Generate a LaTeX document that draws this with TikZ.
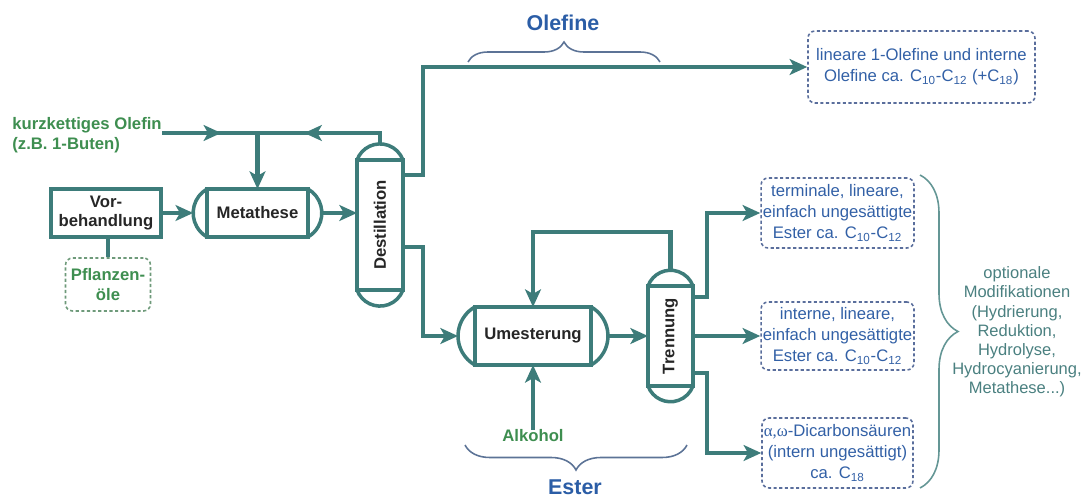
\documentclass[tikz,border=0pt]{standalone}
\usepackage{fontspec}
\usepackage{graphicx}
\setmainfont{Liberation Sans}
\newfontfamily\greekfont{Liberation Serif}
\usetikzlibrary{arrows.meta,calc,decorations.markings,decorations.pathreplacing}

\definecolor{pipe}{HTML}{3D7C7A}
\definecolor{feedgreen}{HTML}{3E8E50}
\definecolor{prodblue}{HTML}{3260A6}
\definecolor{boxline}{HTML}{5A6E9C}
\definecolor{oilline}{HTML}{6E9A7A}
\definecolor{bracegray}{HTML}{5C7396}
\definecolor{groupblue}{HTML}{2B5DA6}
\definecolor{modtext}{HTML}{4A8080}

\tikzstyle{flow} = [color=pipe, line width=2.3pt]
\tikzstyle{stream} = [flow, -{Stealth[length=10pt,width=9pt,inset=2.5pt]}]
\tikzstyle{unittext} = [text=black!85, font=\fontsize{9.5}{11.3}\selectfont\bfseries, align=center]
\tikzstyle{unit} = [draw=pipe, line width=2pt, fill=white, unittext, inner sep=1pt]
\tikzstyle{vesselcap} = [draw=pipe, line width=2pt]
\tikzstyle{feedtext} = [text=feedgreen, font=\fontsize{9.5}{11.3}\selectfont\bfseries, inner sep=0pt]
\tikzstyle{product} = [
  draw=boxline,
  line width=0.9pt,
  dash pattern=on 1.8pt off 1.4pt,
  rounded corners=4pt,
  text=prodblue,
  font=\fontsize{9.5}{12}\selectfont,
  align=center,
  inner sep=1pt,
]
\tikzstyle{bracket} = [draw=bracegray, line width=0.9pt, decorate]
\tikzstyle{group} = [text=groupblue, font=\fontsize{12.2}{14}\selectfont\bfseries]

\tikzset{
  hvessel/.style 2 args={
    unit, minimum width=#1cm, minimum height=#2cm,
    outer ysep=0pt, outer xsep=0.289*#2cm,
    append after command={\pgfextra{
      \draw[vesselcap] ([xshift=0.289*#2cm]\tikzlastnode.north west)
        arc[start angle=120, end angle=240, radius=0.577*#2cm];
      \draw[vesselcap] ([xshift=-0.289*#2cm]\tikzlastnode.north east)
        arc[start angle=60, end angle=-60, radius=0.577*#2cm];
    }}
  },
  vvessel/.style 2 args={
    unit, minimum width=#1cm, minimum height=#2cm,
    outer xsep=0pt, outer ysep=0.35*#1cm,
    append after command={\pgfextra{
      \draw[vesselcap] ([yshift=-0.35*#1cm]\tikzlastnode.north west)
        arc[start angle=160, end angle=20, radius=0.532*#1cm];
      \draw[vesselcap] ([yshift=0.35*#1cm]\tikzlastnode.south west)
        arc[start angle=200, end angle=340, radius=0.532*#1cm];
    }}
  },
  midarrow/.style={
    postaction={decorate, decoration={markings,
      mark=at position #1 with {\arrow{Stealth[length=10pt,width=9pt,inset=2.5pt]}}}}
  },
}

\begin{document}
\begin{tikzpicture}[x=0.02cm, y=-0.02cm]
  \useasboundingbox (0,0) rectangle (1086,497);

  % Units
  \node[unit, minimum width=2.2cm, minimum height=0.96cm] (vor) at (106,213) {Vor-\\behandlung};
  \node[hvessel={2.02}{0.96}] (meta) at (257.5,213) {Metathese};
  \node[vvessel={0.92}{2.6}] (dest) at (380,225) {\rotatebox{90}{Destillation}};
  \node[hvessel={2.33}{1.16}] (umest) at (533,336) {Umesterung};
  \node[vvessel={0.9}{2.0}] (tren) at (670.5,336) {\rotatebox{90}{Trennung}};

  % Feeds
  \node[feedtext, anchor=west, align=left] (feedtxt) at (12,135) {kurzkettiges Olefin\\(z.B. 1-Buten)};
  \node[feedtext, draw=oilline, line width=0.9pt, dash pattern=on 1.8pt off 1.4pt,
        rounded corners=4pt, align=center, minimum width=1.7cm, minimum height=1.06cm]
        (pfl) at (108,284.5) {Pflanzen-\\öle};
  \node[feedtext] (alk) at (533,436) {Alkohol};
  \coordinate (mix) at (257.5,133);

  % Products
  \node[product, minimum width=4.54cm, minimum height=1.44cm] (olprod) at (921.5,67)
    {lineare 1-Olefine und interne\\Olefine ca. C\textsubscript{10}-C\textsubscript{12} (+C\textsubscript{18})};
  \node[product, minimum width=3.02cm, minimum height=1.4cm] (term) at (837.5,213)
    {terminale, lineare,\\einfach ungesättigte\\Ester ca. C\textsubscript{10}-C\textsubscript{12}};
  \node[product, minimum width=3.02cm, minimum height=1.36cm] (intern) at (837.5,336)
    {interne, lineare,\\einfach ungesättigte\\Ester ca. C\textsubscript{10}-C\textsubscript{12}};
  \node[product, minimum width=3.02cm, minimum height=1.4cm] (disre) at (837.5,453)
    {{\greekfont α,ω}-Dicarbonsäuren\\(intern ungesättigt)\\ca. C\textsubscript{18}};

  % Streams
  \draw[flow, midarrow=0.62] (feedtxt.east |- mix) -- (mix);
  \draw[flow, midarrow=0.65] (dest.north) |- (mix);
  \draw[stream] (mix) -- (meta.north);
  \draw[flow] (pfl.north) -- (pfl.north |- vor.south);
  \draw[stream] (vor.east) -- (meta.west);
  \draw[stream] (meta.east) -- (meta.east -| dest.west);
  \draw[stream] ($(dest.east)+(0,-50)$) -- ++(20,0) |- (olprod.west);
  \draw[stream] ($(dest.east)+(0,22)$) -- ++(20,0) |- (umest.west);
  \draw[stream] (tren.north) -- ++(0,-38) -| (umest.north);
  \draw[stream] (alk.north) -- (umest.south);
  \draw[stream] (umest.east) -- (tren.west);
  \draw[stream] ($(tren.east)+(0,-39)$) -- ++(14,0) |- (term.west);
  \draw[stream] (tren.east) -- (intern.west);
  \draw[stream] ($(tren.east)+(0,37)$) -- ++(14,0) |- (disre.west);

  % Groups
  \draw[bracket, decoration={brace, amplitude=0.4cm}] (468,62) -- (660,62);
  \node[group] (olefine) at (563,23) {Olefine};
  \draw[bracket, decoration={brace, mirror, amplitude=0.5cm}] (465,445) -- (687,445);
  \node[group] (ester) at (575,487) {Ester};
  \draw[bracket, draw=pipe!80, decoration={brace, amplitude=0.76cm}] (920,175) -- (920,488);
  \node[text=modtext, font=\fontsize{9.4}{10.9}\selectfont, align=center] (mods) at (1017,332)
    {optionale\\Modifikationen\\(Hydrierung,\\Reduktion,\\Hydrolyse,\\Hydrocyanierung,\\Metathese...)};
\end{tikzpicture}
\end{document}
